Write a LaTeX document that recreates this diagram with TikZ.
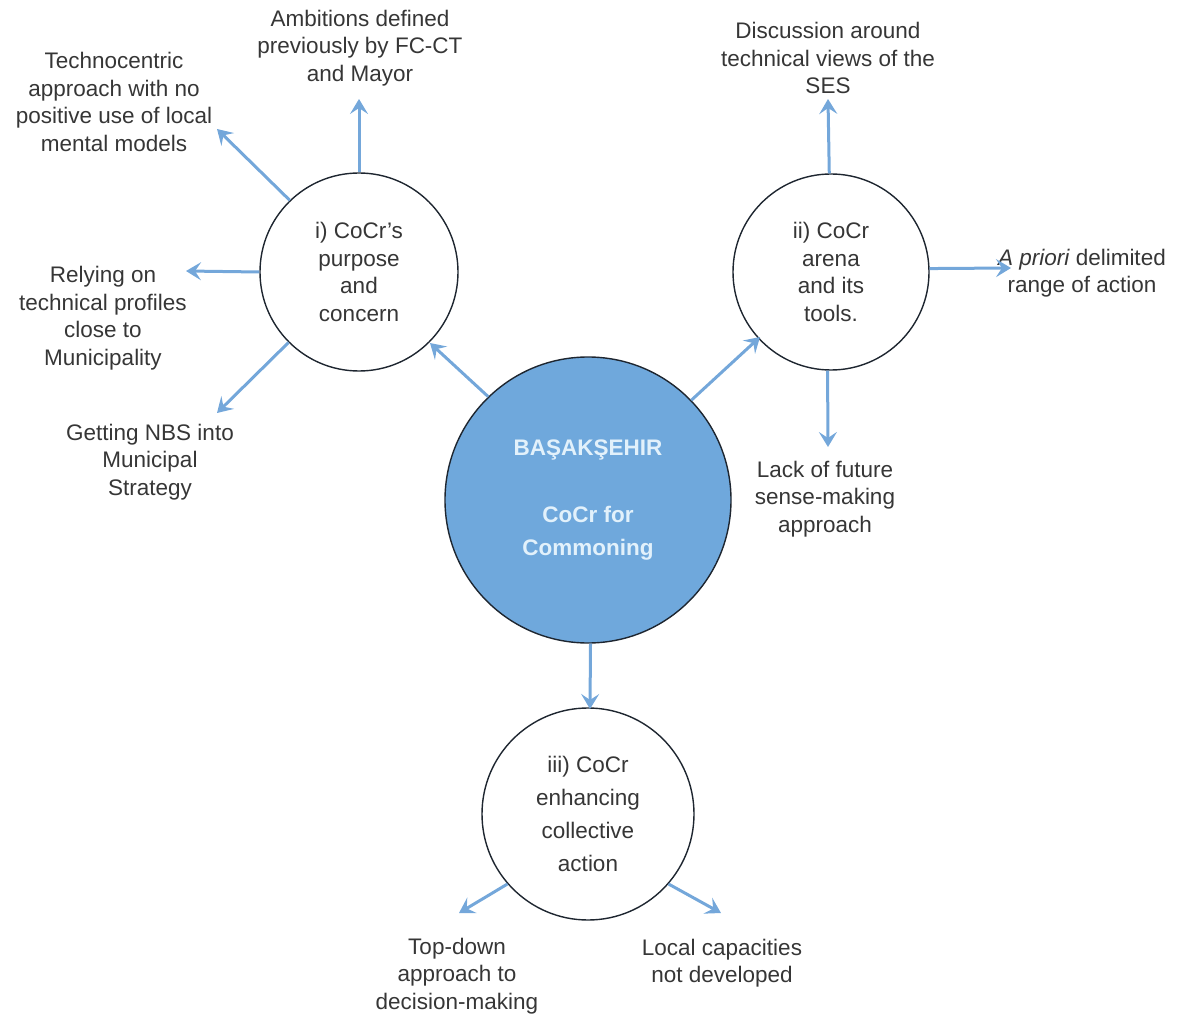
\documentclass[tikz,border=0pt]{standalone}
\usepackage{fontspec}
\setmainfont{Liberation Sans}
\usetikzlibrary{arrows.meta}
\definecolor{cfill}{HTML}{6FA8DC}
\definecolor{carrow}{HTML}{74A7DA}
\definecolor{ctext}{HTML}{363636}
\definecolor{cborder}{HTML}{1E2630}
\definecolor{cwhite}{HTML}{E2F1FB}
\begin{document}
\begin{tikzpicture}[x=1pt,y=-1pt,
  lbl/.style={align=center,text=ctext,inner sep=0pt,font=\fontsize{22.5}{27.5}\selectfont},
  bub/.style={circle,draw=cborder,line width=1.4pt,fill=white,inner sep=0pt,align=center,text=ctext,font=\fontsize{22.5}{27.5}\selectfont},
  arr/.style={draw=carrow,line width=3pt,-{Stealth[length=15pt,width=18pt,inset=6pt]}}]
\useasboundingbox (0,0) rectangle (1178,1016);
\node[bub,minimum size=286pt,fill=cfill,text=cwhite,font=\bfseries\fontsize{22.5}{33.5}\selectfont] (c) at (588,500) {BAŞAKŞEHIR\\[0pt]\mbox{}\\CoCr for\\Commoning};
\node[bub,minimum size=198pt] (i) at (359,272) {i) CoCr's\\purpose\\and\\concern};
\node[bub,minimum size=196pt] (ii) at (831,272) {ii) CoCr\\arena\\and its\\tools.};
\node[bub,minimum size=212pt,font=\fontsize{22.5}{32.7}\selectfont] (iii) at (588,814) {iii) CoCr\\enhancing\\collective\\action};

\node[lbl] (amb) at (360,48) {Ambitions defined\\previously by FC-CT\\and Mayor};
\node[lbl] (tech) at (114,102) {Technocentric\\approach with no\\positive use of local\\mental models};
\node[lbl] (rely) at (103,318) {Relying on\\technical profiles\\close to\\Municipality};
\node[lbl] (nbs) at (150,462) {Getting NBS into\\Municipal\\Strategy};
\node[lbl] (disc) at (828,58) {Discussion around\\technical views of the\\SES};
\node[lbl] (apri) at (1082,273) {{\itshape A priori} delimited\\range of action};
\node[lbl] (lack) at (825,499) {Lack of future\\sense-making\\approach};
\node[lbl] (top) at (457,976) {Top-down\\approach to\\decision-making};
\node[lbl] (loc) at (722,963) {Local capacities\\not developed};

\coordinate (e1) at (430,343);
\coordinate (e2) at (760,337);
\coordinate (e3) at (590,709);
\coordinate (e4) at (359,99);
\coordinate (e5) at (217,129);
\coordinate (e6) at (186,271);
\coordinate (e7) at (217,413);
\coordinate (e8) at (828,99);
\coordinate (e9) at (1011,268);
\coordinate (e10) at (828,447);
\coordinate (e11) at (459,913);
\coordinate (e12) at (721,913);

\draw[arr] (c.134) -- (e1);
\draw[arr] (c.44) -- (e2);
\draw[arr] (c.-89.2) -- (e3);
\draw[arr] (i.north) -- (e4);
\draw[arr] (i.134) -- (e5);
\draw[arr] (i.west) -- (e6);
\draw[arr] (i.-135) -- (e7);
\draw[arr] (ii.91.5) -- (e8);
\draw[arr] (ii.2.4) -- (e9);
\draw[arr] (ii.-92) -- (e10);
\draw[arr] (iii.-139) -- (e11);
\draw[arr] (iii.-41) -- (e12);
\end{tikzpicture}
\end{document}
